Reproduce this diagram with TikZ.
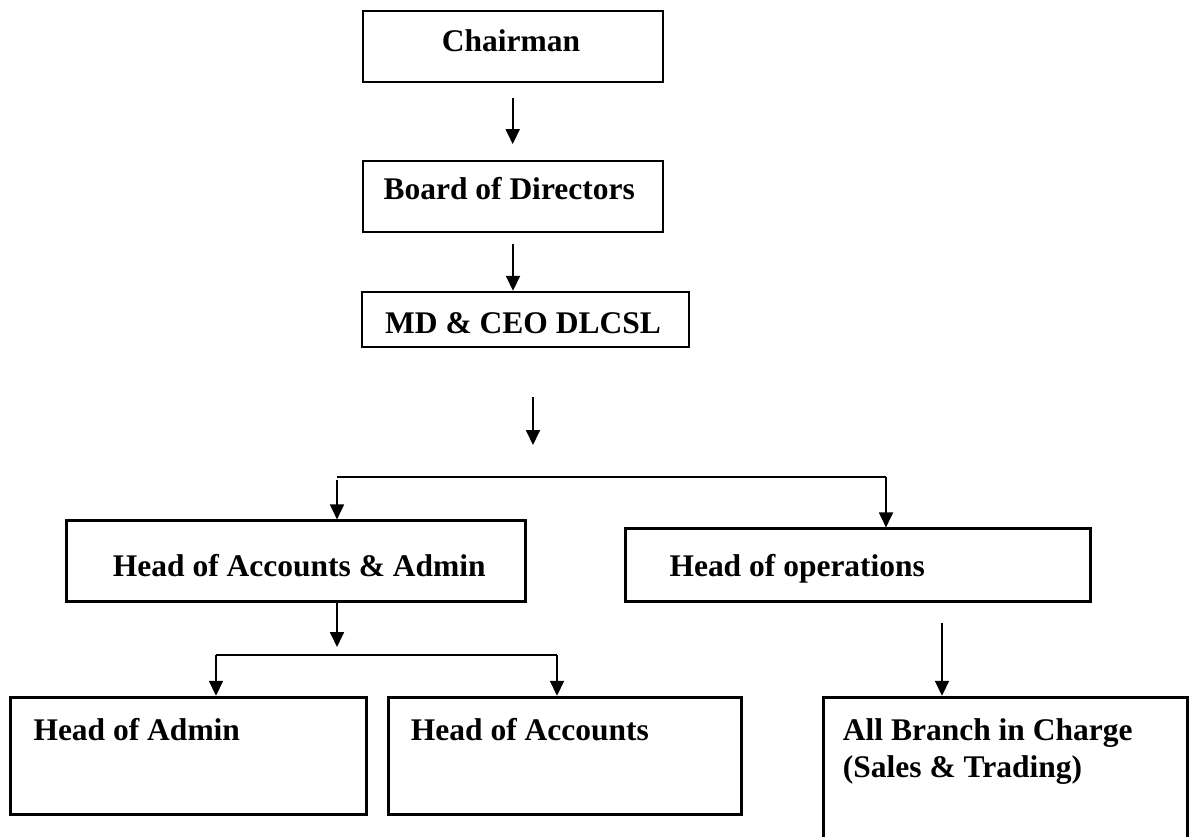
\documentclass[tikz,border=0pt]{standalone}
\usepackage{fontspec}
\setmainfont{Liberation Serif}
\usetikzlibrary{arrows.meta}
\tikzset{
  thinbox/.style={draw, rectangle, line width=1.7pt, inner sep=0pt},
  thickbox/.style={draw, rectangle, line width=3pt, inner sep=0pt},
  lbl/.style={anchor=base west, inner sep=0pt, font=\fontsize{31.5}{37}\selectfont\bfseries},
  arr/.style={line width=1.8pt, -{Triangle[width=14pt,length=15pt]}},
  busline/.style={line width=1.3pt},
  busthick/.style={line width=2pt}
}
\begin{document}
\begin{tikzpicture}[x=1pt,y=-1pt]
\useasboundingbox (0,0) rectangle (1189,837);
\clip (0,0) rectangle (1189,837);
% boxes
\node[thinbox, minimum width=300pt, minimum height=71.6pt] (chair) at (512.7,46.5) {};
\node[thinbox, minimum width=300pt, minimum height=71.6pt] (board) at (512.7,196.5) {};
\node[thinbox, minimum width=327.6pt, minimum height=55.3pt] (md) at (525.5,319.3) {};
\node[thickbox, minimum width=459pt, minimum height=80.7pt] (haa) at (295.5,561.3) {};
\node[thickbox, minimum width=464.7pt, minimum height=72.5pt] (ho) at (858.3,565.2) {};
\node[thickbox, minimum width=356pt, minimum height=117pt] (hadm) at (188,755.8) {};
\node[thickbox, minimum width=352.7pt, minimum height=117pt] (hacc) at (565.3,755.8) {};
\node[thickbox, minimum width=363.7pt, minimum height=203pt] (branch) at (1005.2,798.8) {};
% texts
\node[lbl] (tchair) at (441.7,51.7) {Chairman};
\node[lbl] (tboard) at (383.3,200) {Board of Directors};
\node[lbl] (tmd) at (385,333.3) {MD \& CEO DLCSL};
\node[lbl] (thaa) at (112.7,576) {Head of Accounts \& Admin};
\node[lbl] (tho) at (669.3,576) {Head of operations};
\node[lbl] (thadm) at (33.3,740.7) {Head of Admin};
\node[lbl] (thacc) at (410.7,740.7) {Head of Accounts};
\node[lbl] (tbranchA) at (842.7,740) {All Branch in Charge};
\node[lbl] (tbranchB) at (842.7,777.3) {(Sales \& Trading)};
% coordinates
\coordinate (a3s) at (533,397);
\coordinate (a3e) at (533,445);
\coordinate (busL) at (337,477);
\coordinate (busR) at (886,477);
\coordinate (busLdown) at (337,480);
\coordinate (a4) at (337,602);
\coordinate (a4e) at (337,647);
\coordinate (bus2L) at (216,655);
\coordinate (bus2R) at (557,655);
\coordinate (a5s) at (942,623);
% connectors
\draw[arr, shorten <=14.5pt, shorten >=15.7pt] (chair) -- (board);
\draw[arr, shorten <=10.5pt] ([xshift=0.3pt]board.south) -- ([xshift=0.3pt]board.south |- md.north);
\draw[arr] (a3s) -- (a3e);
\draw[busline] (busL) -- (busR);
\draw[arr] (busR) -- (busR |- ho.north);
\draw[arr] (busLdown) -- (busLdown |- haa.north);
\draw[arr] (a4 |- haa.south) -- (a4e);
\draw[busthick] (bus2L) -- (bus2R);
\draw[arr] (bus2L) -- (bus2L |- hadm.north);
\draw[arr] (bus2R) -- (bus2R |- hacc.north);
\draw[arr] (a5s) -- (a5s |- branch.north);
\end{tikzpicture}
\end{document}
